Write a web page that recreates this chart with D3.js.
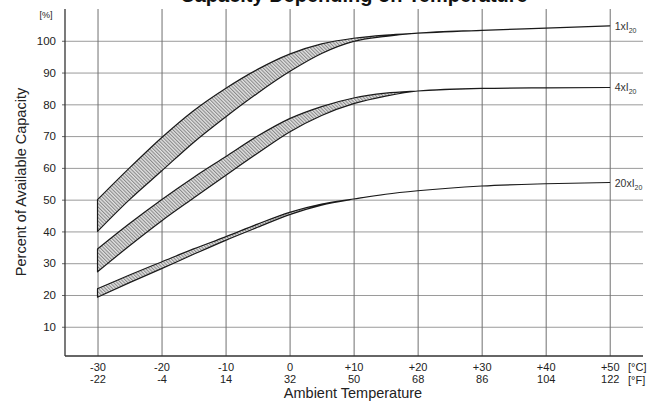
<!DOCTYPE html>
<meta charset="UTF-8">
<head>
    <title>Capacity Depending on Temperature</title>
    <style>
        body { margin: 0; background: #fff; }
        svg { display: block; }
    </style>
</head>
<body>
<svg width="662" height="402" font-family="'Liberation Sans', Arial, sans-serif"></svg>
<script src="https://d3js.org/d3.v7.min.js"></script>
<script>

// Data.
var temps = [-30, -25, -20, -15, -10, -5, 0, 5, 10, 15, 20, 30, 40, 50];

var band1Upper = [50, 60, 69.5, 78, 85, 91, 95.8, 99, 100.8, 101.8, 102.4, 103.3, 104, 104.7];
var band1Lower = [40, 50, 59, 68, 76, 83.5, 90.3, 96, 99.8, 101.4, 102.4, 103.3, 104, 104.7];

var band2Upper = [34.5, 42.5, 50, 57, 63.5, 70, 75.5, 79.3, 82, 83.5, 84.2, 85, 85.2, 85.3];
var band2Lower = [27.3, 35.5, 43.3, 50.5, 57.6, 64.6, 71.3, 76.5, 80.2, 82.6, 84.2, 85, 85.2, 85.3];

var band3Upper = [22, 26.3, 30.4, 34.5, 38.3, 42.3, 46, 48.6, 50.2, 51.7, 52.8, 54.3, 55, 55.4];
var band3Lower = [19.3, 23.9, 28.3, 32.8, 37.2, 41.3, 45.3, 48.3, 50.2, 51.7, 52.8, 54.3, 55, 55.4];

var bandNames = ["1", "4", "20"];

var yTicks = [10, 20, 30, 40, 50, 60, 70, 80, 90, 100];
var cTicks = [-30, -20, -10, 0, 10, 20, 30, 40, 50];
var cLabels = ["-30", "-20", "-10", "0", "+10", "+20", "+30", "+40", "+50"];
var fLabels = ["-22", "-4", "14", "32", "50", "68", "86", "104", "122"];

var svg = d3.select("svg");

var x = d3.scaleLinear().domain([-35.08, 55.2]).range([65, 643]);
var y = d3.scaleLinear().domain([0.8, 110]).range([356, 9]);

// hatch fill for the bands
var defs = svg.append("defs");
var pat = defs.append("pattern")
    .attr("id", "hatch")
    .attr("patternUnits", "userSpaceOnUse")
    .attr("width", 2.5)
    .attr("height", 2.5)
    .attr("patternTransform", "rotate(-45)");
pat.append("rect").attr("width", 2.5).attr("height", 2.5).attr("fill", "#e2e2e2");
pat.append("line")
    .attr("x1", 0.6).attr("y1", 0).attr("x2", 0.6).attr("y2", 2.5)
    .attr("stroke", "#777").attr("stroke-width", 0.9);

// title (cut off at top of the picture, as in the original)
svg.append("text")
    .attr("x", 354)
    .attr("y", 2)
    .attr("text-anchor", "middle")
    .attr("font-size", 20)
    .attr("font-weight", "bold")
    .attr("fill", "#111")
    .text("Capacity Depending on Temperature");

// horizontal grid
svg.append("g")
    .attr("transform", "translate(65,0)")
    .call(d3.axisLeft(y).tickValues(yTicks).tickSize(-578).tickFormat(""))
    .call(function(g) { g.select(".domain").remove(); })
    .selectAll("line").attr("stroke", "#9a9a9a");

// vertical grid
svg.append("g")
    .attr("transform", "translate(0,356)")
    .call(d3.axisBottom(x).tickValues(cTicks).tickSize(-347).tickFormat(""))
    .call(function(g) { g.select(".domain").remove(); })
    .selectAll("line").attr("stroke", "#707070");

// y axis labels
var gy = svg.append("g")
    .attr("transform", "translate(65,0)")
    .call(d3.axisLeft(y).tickValues(yTicks).tickSize(3).tickPadding(6));
gy.select(".domain").remove();
gy.selectAll("line").attr("stroke", "#666");
gy.selectAll("text").attr("font-size", 11.5).attr("fill", "#222").attr("font-family", null);

// axis lines
svg.append("line").attr("x1", 65).attr("x2", 65).attr("y1", 9).attr("y2", 356)
    .attr("stroke", "#333").attr("stroke-width", 1.3);
svg.append("line").attr("x1", 65).attr("x2", 643).attr("y1", 356).attr("y2", 356)
    .attr("stroke", "#333").attr("stroke-width", 1.3);

// x tick labels, two rows (°C and °F)
var gc = svg.append("g")
    .attr("transform", "translate(0,356)")
    .call(d3.axisBottom(x).tickValues(cTicks).tickSize(0).tickPadding(7)
        .tickFormat(function(d, i) { return cLabels[i]; }));
gc.select(".domain").remove();
gc.selectAll("text").attr("font-size", 11).attr("fill", "#222").attr("font-family", null);

var gf = svg.append("g")
    .attr("transform", "translate(0,368.5)")
    .call(d3.axisBottom(x).tickValues(cTicks).tickSize(0).tickPadding(7)
        .tickFormat(function(d, i) { return fLabels[i]; }));
gf.select(".domain").remove();
gf.selectAll("text").attr("font-size", 11).attr("fill", "#222").attr("font-family", null);

svg.append("text").attr("x", 628).attr("y", 371).attr("font-size", 11).attr("fill", "#222").text("[°C]");
svg.append("text").attr("x", 628).attr("y", 383.5).attr("font-size", 11).attr("fill", "#222").text("[°F]");
svg.append("text").attr("x", 46).attr("y", 18).attr("font-size", 9).attr("fill", "#222")
    .attr("text-anchor", "middle").text("[%]");

// axis titles
svg.append("text")
    .attr("x", 353).attr("y", 398)
    .attr("text-anchor", "middle")
    .attr("font-size", 14.5)
    .attr("fill", "#222")
    .text("Ambient Temperature");

svg.append("text")
    .attr("transform", "translate(26,182) rotate(-90)")
    .attr("text-anchor", "middle")
    .attr("font-size", 14.5)
    .attr("fill", "#222")
    .text("Percent of Available Capacity");

// bands
var bands = [
    {upper: band1Upper, lower: band1Lower},
    {upper: band2Upper, lower: band2Lower},
    {upper: band3Upper, lower: band3Lower}
];

var area = d3.area()
    .x(function(d) { return x(d.t); })
    .y0(function(d) { return y(d.lo); })
    .y1(function(d) { return y(d.hi); })
    .curve(d3.curveMonotoneX);

bands.forEach(function(b, k) {
    var pts = temps.map(function(t, i) { return {t: t, hi: b.upper[i], lo: b.lower[i]}; });
    svg.append("path")
        .datum(pts)
        .attr("d", area)
        .attr("fill", "url(#hatch)")
        .attr("stroke", "#1a1a1a")
        .attr("stroke-width", 1.2)
        .attr("stroke-linejoin", "round");

    // label at the right end
    var last = pts[pts.length - 1];
    var lab = svg.append("text")
        .attr("x", x(50) + 5)
        .attr("y", y(last.hi) + 4)
        .attr("font-size", 10.5)
        .attr("fill", "#333");
    lab.append("tspan").text(bandNames[k] + "xI");
    lab.append("tspan").attr("font-size", 7).attr("dy", 3).text("20");
});

</script>
</body>
